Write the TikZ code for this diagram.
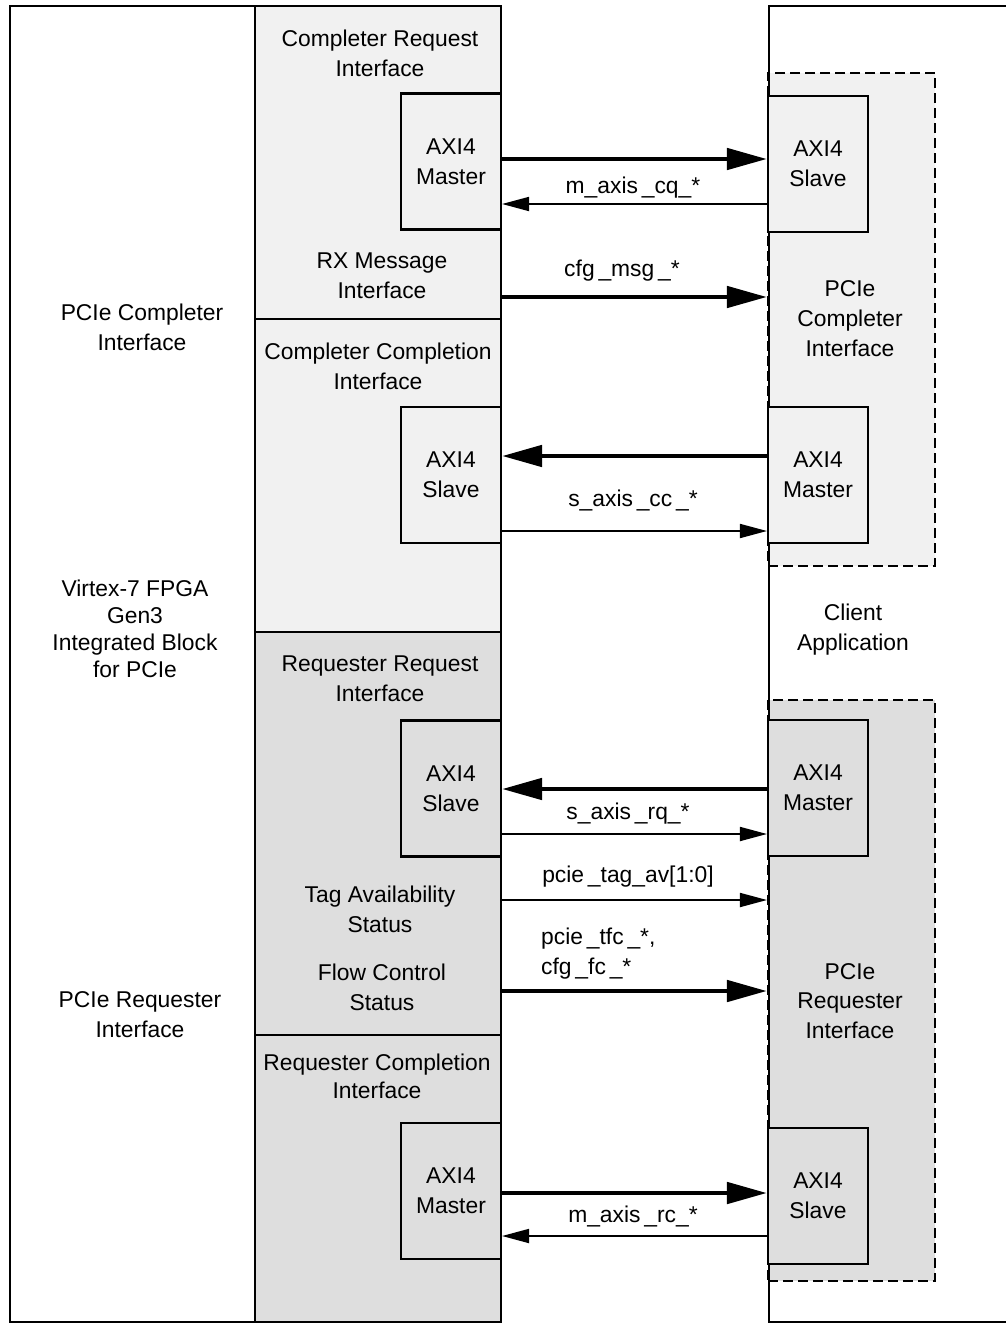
\documentclass[tikz,border=0pt]{standalone}
\usepackage{fontspec}
\setmainfont{Liberation Sans}
\usetikzlibrary{arrows.meta}

\definecolor{cmpgray}{RGB}{241,241,241}
\definecolor{reqgray}{RGB}{222,222,222}

\begin{document}
\begin{tikzpicture}[
  x=0.02cm, y=-0.02cm,
  font=\fontsize{13}{17}\selectfont,
  box/.style={rectangle, draw, line width=1.2pt, inner sep=0pt},
  section/.style={box, minimum width=4.92cm},
  axi/.style={box, minimum width=2cm, minimum height=2.72cm, align=center},
  iface/.style={rectangle, draw, dash pattern=on 0.2cm off 0.1cm, line width=1.2pt, minimum width=3.34cm},
  txt/.style={align=center},
  bus/.style={line width=2.7pt, -{Triangle[length=0.8cm, width=0.42cm]}},
  sig/.style={line width=1pt, -{Triangle[length=0.54cm, width=0.28cm]}}
]

\path[use as bounding box] (0,0) rectangle (1006,1325);
\clip (0,0) rectangle (1006,1325);

% Integrated block
\node[box, minimum width=9.82cm, minimum height=26.32cm] (fpga) at (255.5,664) {};

% Interface sections
\node[section, fill=cmpgray, minimum height=6.26cm] (cq) at (378,162.5) {};
\node[section, fill=cmpgray, minimum height=6.26cm] (cc) at (378,475.5) {};
\node[section, fill=reqgray, minimum height=8.06cm] (rq) at (378,833.5) {};
\node[section, fill=reqgray, minimum height=5.74cm] (rc) at (378,1178.5) {};

% Client side
\node[iface, fill=cmpgray, minimum height=9.86cm] (cmpif) at (851.5,319.5) {};
\node[iface, fill=reqgray, minimum height=11.62cm] (reqif) at (851.5,990.5) {};
\node[box, minimum width=5.6cm, minimum height=26.32cm, anchor=west] (client) at (768,664) {};

% AXI4 ports
\node[axi, fill=cmpgray] (cqm) at (451,161.5) {AXI4\\Master};
\node[axi, fill=cmpgray] (ccs) at (451,475) {AXI4\\Slave};
\node[axi, fill=reqgray] (rqs) at (451,788.5) {AXI4\\Slave};
\node[axi, fill=reqgray] (rcm) at (451,1191) {AXI4\\Master};

\node[axi, fill=cmpgray] (cqs) at (818,164) {AXI4\\Slave};
\node[axi, fill=cmpgray] (ccm) at (818,475) {AXI4\\Master};
\node[axi, fill=reqgray] (rqm) at (818,788) {AXI4\\Master};
\node[axi, fill=reqgray] (rcs) at (818,1196) {AXI4\\Slave};

% Connections
\draw[bus] (cqm.east |- 0,159) -- (cqs.west |- 0,159);
\draw[sig] (cqs.west |- 0,204) -- (cqm.east |- 0,204);
\draw[bus] (cq.east |- 0,297) -- (cmpif.west |- 0,297);
\draw[bus] (ccm.west |- 0,456) -- (ccs.east |- 0,456);
\draw[sig] (ccs.east |- 0,531) -- (ccm.west |- 0,531);
\draw[bus] (rqm.west |- 0,789) -- (rqs.east |- 0,789);
\draw[sig] (rqs.east |- 0,834) -- (rqm.west |- 0,834);
\draw[sig] (rq.east |- 0,900) -- (reqif.west |- 0,900);
\draw[bus] (rq.east |- 0,991) -- (reqif.west |- 0,991);
\draw[bus] (rcm.east |- 0,1193) -- (rcs.west |- 0,1193);
\draw[sig] (rcs.west |- 0,1236) -- (rcm.east |- 0,1236);

% Signal names
\node[anchor=base] (lcq) at (633,193) {m\_axis\,\_cq\_*};
\node[anchor=base] (lmsg) at (622,276) {cfg\,\_msg\,\_*};
\node[anchor=base] (lcc) at (633,506) {s\_axis\,\_cc\,\_*};
\node[anchor=base] (lrq) at (628,819) {s\_axis\,\_rq\_*};
\node[anchor=base] (ltag) at (628,882) {pcie\,\_tag\_av[1:0]};
\node[anchor=west, align=left] (lfc) at (535,954) {pcie\,\_tfc\,\_*,\\cfg\,\_fc\,\_*};
\node[anchor=base] (lrc) at (633,1222) {m\_axis\,\_rc\_*};

% Labels
\node[txt] (tcq) at (380,53) {Completer Request\\Interface};
\node[txt] (tmsg) at (382,276) {RX Message\\Interface};
\node[txt] (tcc) at (378,366) {Completer Completion\\Interface};
\node[txt] (trq) at (380,679) {Requester Request\\Interface};
\node[txt] (ttag) at (380,909) {Tag Availability\\Status};
\node[txt] (tfc) at (382,987) {Flow Control\\Status};
\node[txt, font=\fontsize{13}{16}\selectfont] (trc) at (377,1076) {Requester Completion\\Interface};

\node[txt] (tcmp) at (142,327) {PCIe Completer\\Interface};
\node[txt, font=\fontsize{13}{15.4}\selectfont] (tblk) at (135,629) {Virtex-7 FPGA\\Gen3\\Integrated Block\\for PCIe};
\node[txt] (treq) at (140,1015) {PCIe Requester\\Interface};

\node[txt] (tcmpif) at (850,319) {PCIe\\Completer\\Interface};
\node[txt] (tclient) at (853,630) {Client\\Application};
\node[txt] (treqif) at (850,1001) {PCIe\\Requester\\Interface};

\end{tikzpicture}
\end{document}
